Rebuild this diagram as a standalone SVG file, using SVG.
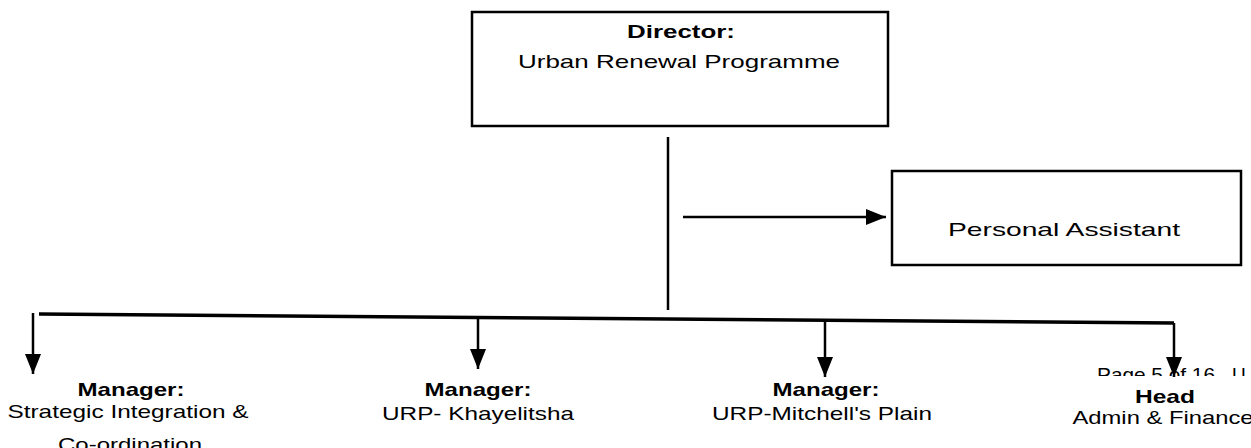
<svg xmlns="http://www.w3.org/2000/svg" width="1251" height="448" viewBox="0 0 1251 448">
<style>
.box{fill:#fff;stroke:#000;stroke-width:2.5}
.ln{fill:none;stroke:#000;stroke-width:2.5}
.bar{fill:none;stroke:#000;stroke-width:3.5}
.t{font-family:"Liberation Sans",Arial,sans-serif;font-size:19px;fill:#000;text-anchor:middle}
.b{font-weight:bold}
</style>
<defs>
<marker id="ah" markerUnits="userSpaceOnUse" markerWidth="20" markerHeight="16" refX="20" refY="8" orient="auto">
<path d="M0,0 L20,8 L0,16 z" fill="#000"/>
</marker>
<clipPath id="pg"><rect x="1000" y="350" width="251" height="26"/></clipPath>
</defs>
<rect width="1251" height="448" fill="#fff"/>
<g id="connectors">
<line class="ln" x1="668" y1="137" x2="668" y2="310"/>
<line class="ln" x1="683" y1="217" x2="886" y2="217" marker-end="url(#ah)"/>
<line class="bar" x1="39" y1="314" x2="1174" y2="323"/>
<line class="ln" x1="33" y1="313" x2="33" y2="374" marker-end="url(#ah)"/>
<line class="ln" x1="478" y1="318" x2="478" y2="369" marker-end="url(#ah)"/>
<line class="ln" x1="825" y1="321" x2="825" y2="377" marker-end="url(#ah)"/>
<line class="ln" x1="1174" y1="323" x2="1174" y2="377" marker-end="url(#ah)"/>
</g>
<g id="director">
<rect class="box" x="472" y="12" width="416" height="114"/>
<text class="t b" x="681" y="38" textLength="108" lengthAdjust="spacingAndGlyphs">Director:</text>
<text class="t" x="679" y="68" textLength="322" lengthAdjust="spacingAndGlyphs">Urban Renewal Programme</text>
</g>
<g id="pa">
<rect class="box" x="892" y="171" width="349" height="94"/>
<text class="t" x="1064" y="236" textLength="232" lengthAdjust="spacingAndGlyphs">Personal Assistant</text>
</g>
<g id="mgr-strategic">
<text class="t b" x="131" y="396" textLength="107" lengthAdjust="spacingAndGlyphs">Manager:</text>
<text class="t" x="128" y="418" textLength="241" lengthAdjust="spacingAndGlyphs">Strategic Integration &amp;</text>
<text class="t" x="130" y="451" textLength="144" lengthAdjust="spacingAndGlyphs">Co-ordination</text>
</g>
<g id="mgr-khayelitsha">
<text class="t b" x="478" y="396" textLength="107" lengthAdjust="spacingAndGlyphs">Manager:</text>
<text class="t" x="478" y="420" textLength="192" lengthAdjust="spacingAndGlyphs">URP- Khayelitsha</text>
</g>
<g id="mgr-mitchells">
<text class="t b" x="826" y="396" textLength="107" lengthAdjust="spacingAndGlyphs">Manager:</text>
<text class="t" x="822" y="420" textLength="220" lengthAdjust="spacingAndGlyphs">URP-Mitchell's Plain</text>
</g>
<g id="head-admin">
<text class="t" x="1097" y="381" clip-path="url(#pg)" style="text-anchor:start" textLength="118" lengthAdjust="spacingAndGlyphs">Page 5 of 16</text>
<text class="t" x="1232" y="381" clip-path="url(#pg)" style="text-anchor:start">U</text>
<text class="t b" x="1165" y="403" textLength="60" lengthAdjust="spacingAndGlyphs">Head</text>
<text class="t" x="1163" y="424" textLength="181" lengthAdjust="spacingAndGlyphs">Admin &amp; Finance</text>
</g>
</svg>
